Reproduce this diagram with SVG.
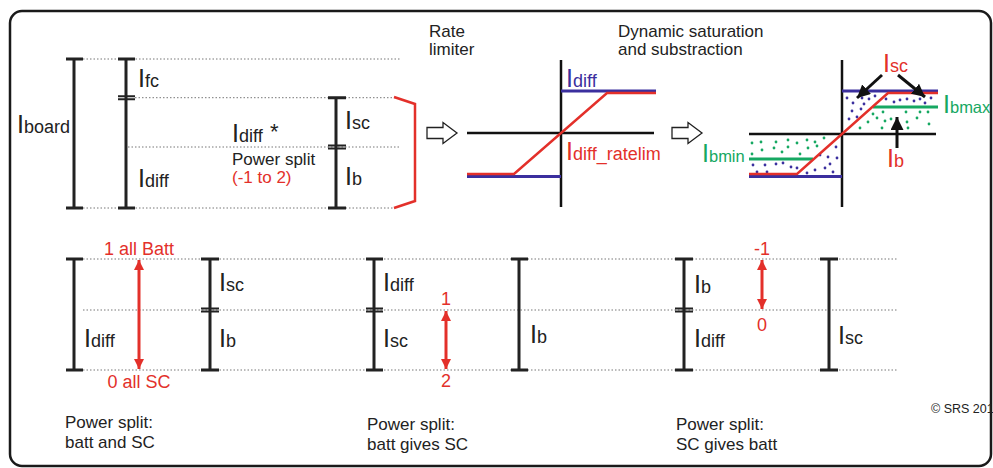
<svg xmlns="http://www.w3.org/2000/svg" width="993" height="468" viewBox="0 0 993 468">
<style>
text{font-family:"Liberation Sans",Arial,sans-serif;fill:#222}
.big{font-size:25px}
.sub{font-size:18px}
.sub2{font-size:16.5px}
.t{font-size:17px}
.red{fill:#e3302a}
.blue{fill:#3b2f9e}
.green{fill:#16a862}
.dot{stroke:#777;stroke-width:1;stroke-dasharray:1.5 2;fill:none}
.bar{stroke:#222;stroke-width:3;fill:none}
.ax{stroke:#111;stroke-width:2.5;fill:none}
.bl{stroke:#3b2f9e;stroke-width:3;fill:none}
.rl{stroke:#e3302a;stroke-width:2.5;fill:none}
.gl{stroke:#16a862;stroke-width:3;fill:none}
.bd circle{fill:#3b2f9e}
.gd circle{fill:#16a862}
.ra{stroke:#e3302a;stroke-width:3;fill:none;marker-start:url(#rh);marker-end:url(#rh)}
.ka{stroke:#111;stroke-width:3;fill:none;marker-end:url(#kh)}
</style>
<defs>
<marker id="rh" viewBox="0 0 10 10" refX="10" refY="5" markerWidth="10" markerHeight="10" markerUnits="userSpaceOnUse" orient="auto-start-reverse"><path d="M0,0 L10,5 L0,10 z" fill="#e3302a"/></marker>
<marker id="kh" viewBox="0 0 10 10" refX="10" refY="5" markerWidth="13" markerHeight="13" markerUnits="userSpaceOnUse" orient="auto"><path d="M0,0 L10,5 L0,10 z" fill="#111"/></marker>
</defs>
<rect x="10" y="11" width="981" height="455" rx="12" fill="#fff" stroke="#1a1a1a" stroke-width="2.5"/>

<g id="top-guides">
<line class="dot" x1="83" y1="59" x2="400" y2="59"/>
<line class="dot" x1="135" y1="97.7" x2="395" y2="97.7"/>
<line class="dot" x1="128" y1="147" x2="400" y2="147"/>
<line class="dot" x1="83" y1="208" x2="393" y2="208"/>
</g>

<g id="iboard">
<path class="bar" d="M74,59V208M66,59H83M66,208H83"/>
<text x="17" y="133"><tspan class="big">I</tspan><tspan class="sub">board</tspan></text>
</g>

<g id="ifc-idiff">
<path class="bar" d="M126,59V208M118,59H135M118,208H135"/>
<path stroke="#222" stroke-width="2" d="M118,96.2H135M118,99.2H135"/>
<text x="138" y="87"><tspan class="big">I</tspan><tspan class="sub">fc</tspan></text>
<text x="138" y="187"><tspan class="big">I</tspan><tspan class="sub">diff</tspan></text>
</g>

<g id="isc-ib">
<path class="bar" d="M336,97.7V208M328,97.7H346M328,208H346"/>
<path stroke="#222" stroke-width="2" d="M328,145.5H346M328,148.5H346"/>
<text x="345" y="129"><tspan class="big">I</tspan><tspan class="sub">sc</tspan></text>
<text x="345" y="185"><tspan class="big">I</tspan><tspan class="sub">b</tspan></text>
</g>

<g id="power-split">
<text x="232" y="142"><tspan class="big">I</tspan><tspan class="sub">diff</tspan></text>
<text x="270" y="139" font-size="22">*</text>
<text class="t" x="232" y="165">Power split</text>
<text class="t red" x="232" y="183">(-1 to 2)</text>
<polyline points="394,97 415,104 415,201 394,208" fill="none" stroke="#e3302a" stroke-width="2.5"/>
</g>

<g id="rate-limiter">
<text class="t" x="429" y="37">Rate</text>
<text class="t" x="429" y="55">limiter</text>
<polygon points="427,127.5 443,127.5 443,122.5 457,133 443,143.5 443,138.5 427,138.5" fill="#fff" stroke="#222" stroke-width="1.3"/>
<line class="ax" x1="467" y1="133" x2="654" y2="133"/>
<line class="ax" x1="561" y1="60" x2="561" y2="207"/>
<line class="bl" x1="561" y1="91" x2="656" y2="91"/>
<line class="bl" x1="467" y1="176.5" x2="561" y2="176.5"/>
<polyline class="rl" points="467,174 514,174 607,93 656,93"/>
<text class="blue" x="566" y="87"><tspan class="big">I</tspan><tspan class="sub">diff</tspan></text>
<text class="red" x="566" y="160"><tspan class="big">I</tspan><tspan class="sub">diff_ratelim</tspan></text>
</g>

<g id="dynamic-saturation">
<text class="t" x="618" y="37">Dynamic saturation</text>
<text class="t" x="618" y="55">and substraction</text>
<polygon points="672,127.5 688,127.5 688,122.5 702,133 688,143.5 688,138.5 672,138.5" fill="#fff" stroke="#222" stroke-width="1.3"/>
<g class="bd">
<circle cx="847" cy="98" r="1.4"/><circle cx="853" cy="103" r="1.4"/><circle cx="862" cy="98" r="1.4"/><circle cx="864" cy="104" r="1.4"/><circle cx="869" cy="99" r="1.4"/><circle cx="875" cy="96" r="1.4"/><circle cx="852" cy="111" r="1.4"/><circle cx="861" cy="109" r="1.4"/><circle cx="849" cy="119" r="1.4"/><circle cx="857" cy="117" r="1.4"/><circle cx="894" cy="102" r="1.4"/><circle cx="900" cy="100" r="1.4"/><circle cx="907" cy="99" r="1.4"/><circle cx="914" cy="101" r="1.4"/><circle cx="920" cy="99" r="1.4"/><circle cx="925" cy="103" r="1.4"/><circle cx="931" cy="98" r="1.4"/><circle cx="886" cy="99" r="1.4"/>
<circle cx="753" cy="165" r="1.4"/><circle cx="757" cy="172" r="1.4"/><circle cx="765" cy="165" r="1.4"/><circle cx="767" cy="172" r="1.4"/><circle cx="776" cy="164" r="1.4"/><circle cx="783" cy="163" r="1.4"/><circle cx="791" cy="167" r="1.4"/><circle cx="797" cy="168" r="1.4"/><circle cx="807" cy="173" r="1.4"/><circle cx="815" cy="170" r="1.4"/><circle cx="825" cy="168" r="1.4"/><circle cx="830" cy="164" r="1.4"/><circle cx="833" cy="172" r="1.4"/><circle cx="837" cy="158" r="1.4"/><circle cx="820" cy="155" r="1.4"/><circle cx="828" cy="157" r="1.4"/><circle cx="836" cy="147" r="1.4"/>
</g>
<g class="gd">
<circle cx="873" cy="114" r="1.4"/><circle cx="883" cy="112" r="1.4"/><circle cx="906" cy="112" r="1.4"/><circle cx="928" cy="112" r="1.4"/><circle cx="868" cy="122" r="1.4"/><circle cx="877" cy="118" r="1.4"/><circle cx="885" cy="121" r="1.4"/><circle cx="891" cy="119" r="1.4"/><circle cx="907" cy="122" r="1.4"/><circle cx="917" cy="118" r="1.4"/><circle cx="929" cy="124" r="1.4"/><circle cx="860" cy="128" r="1.4"/><circle cx="882" cy="128" r="1.4"/><circle cx="908" cy="128" r="1.4"/><circle cx="920" cy="112" r="1.4"/>
<circle cx="752" cy="143" r="1.4"/><circle cx="761" cy="142" r="1.4"/><circle cx="776" cy="142" r="1.4"/><circle cx="788" cy="140" r="1.4"/><circle cx="797" cy="143" r="1.4"/><circle cx="807" cy="140" r="1.4"/><circle cx="815" cy="142" r="1.4"/><circle cx="824" cy="138" r="1.4"/><circle cx="752" cy="154" r="1.4"/><circle cx="762" cy="150" r="1.4"/><circle cx="774" cy="148" r="1.4"/><circle cx="782" cy="152" r="1.4"/><circle cx="788" cy="147" r="1.4"/><circle cx="800" cy="154" r="1.4"/><circle cx="808" cy="148" r="1.4"/><circle cx="817" cy="146" r="1.4"/>
</g>
<line class="ax" x1="749" y1="134" x2="936" y2="134"/>
<line class="ax" x1="842" y1="60" x2="842" y2="207"/>
<line class="bl" x1="842" y1="91" x2="938" y2="91"/>
<line class="bl" x1="749" y1="176.5" x2="842" y2="176.5"/>
<line class="gl" x1="873" y1="107" x2="938" y2="107"/>
<line class="gl" x1="749" y1="159" x2="813" y2="159"/>
<polyline class="rl" points="749,174 797,174 888,93 938,93"/>
<text class="red" x="883" y="72"><tspan class="big">I</tspan><tspan class="sub">sc</tspan></text>
<text class="green" x="943" y="113"><tspan class="big">I</tspan><tspan class="sub2">bmax</tspan></text>
<text class="red" x="887" y="167"><tspan class="big">I</tspan><tspan class="sub">b</tspan></text>
<text class="green" x="702" y="162"><tspan class="big">I</tspan><tspan class="sub2">bmin</tspan></text>
</g>

<g id="bottom-guides">
<line class="dot" x1="83" y1="259" x2="898" y2="259"/>
<line class="dot" x1="83" y1="310" x2="898" y2="310"/>
<line class="dot" x1="83" y1="370" x2="898" y2="370"/>
</g>

<g id="split-batt-sc">
<path class="bar" d="M74,259V370M66,259H83M66,370H83"/>
<text x="84" y="347"><tspan class="big">I</tspan><tspan class="sub">diff</tspan></text>
<text class="red" x="139" y="255" text-anchor="middle" font-size="18">1 all Batt</text>
<text class="red" x="139" y="388" text-anchor="middle" font-size="18">0 all SC</text>
<path class="bar" d="M210,259V370M201,259H219M201,370H219"/>
<path stroke="#222" stroke-width="2" d="M201,308.5H219M201,311.5H219"/>
<text x="219" y="291"><tspan class="big">I</tspan><tspan class="sub">sc</tspan></text>
<text x="219" y="347"><tspan class="big">I</tspan><tspan class="sub">b</tspan></text>
<text class="t" x="65" y="428">Power split:</text>
<text class="t" x="65" y="448">batt and SC</text>
</g>

<g id="split-batt-gives-sc">
<path class="bar" d="M374,259V370M366,259H383M366,370H383"/>
<path stroke="#222" stroke-width="2" d="M366,308.5H383M366,311.5H383"/>
<text x="383" y="291"><tspan class="big">I</tspan><tspan class="sub">diff</tspan></text>
<text x="383" y="347"><tspan class="big">I</tspan><tspan class="sub">sc</tspan></text>
<text class="red" x="446" y="305" text-anchor="middle" font-size="18">1</text>
<text class="red" x="446" y="387" text-anchor="middle" font-size="18">2</text>
<path class="bar" d="M519,259V370M511,259H528M511,370H528"/>
<text x="530" y="343"><tspan class="big">I</tspan><tspan class="sub">b</tspan></text>
<text class="t" x="367" y="430">Power split:</text>
<text class="t" x="367" y="450">batt gives SC</text>
</g>

<g id="split-sc-gives-batt">
<path class="bar" d="M684,259V370M675,259H693M675,370H693"/>
<path stroke="#222" stroke-width="2" d="M675,308.5H693M675,311.5H693"/>
<text x="694" y="293"><tspan class="big">I</tspan><tspan class="sub">b</tspan></text>
<text x="694" y="347"><tspan class="big">I</tspan><tspan class="sub">diff</tspan></text>
<text class="red" x="762" y="255" text-anchor="middle" font-size="18">-1</text>
<text class="red" x="762" y="331" text-anchor="middle" font-size="18">0</text>
<path class="bar" d="M829,259V370M820,259H838M820,370H838"/>
<text x="838" y="344"><tspan class="big">I</tspan><tspan class="sub">sc</tspan></text>
<text class="t" x="676" y="430">Power split:</text>
<text class="t" x="676" y="450">SC gives batt</text>
</g>

<g id="copyright">
<text x="931" y="413" font-size="12.5">© SRS 201</text>
</g>

<g id="connectors">
<line class="ra" x1="139" y1="260" x2="139" y2="369"/>
<line class="ra" x1="446" y1="311" x2="446" y2="369"/>
<line class="ra" x1="762" y1="260" x2="762" y2="309"/>
<line class="ka" x1="882" y1="75" x2="857" y2="98"/>
<line class="ka" x1="898" y1="75" x2="925" y2="97"/>
<line class="ka" x1="897" y1="148" x2="897" y2="117"/>
</g>
</svg>
